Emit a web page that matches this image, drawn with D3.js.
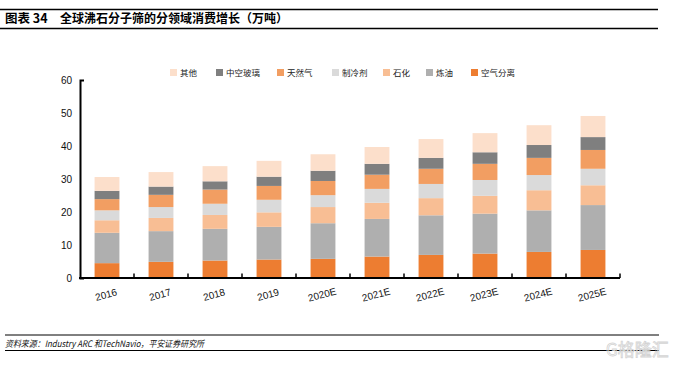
<!DOCTYPE html>
<html lang="zh">
<head>
<meta charset="utf-8">
<style>
  body { margin: 0; background: #fff; }
  svg { display: block; }
  text { font-family: "Liberation Sans", Arial, sans-serif; }
  .cn { font-family: "Noto Sans CJK SC", sans-serif; }
</style>
</head>
<body>
<div id="chart"></div>
<script src="https://d3js.org/d3.v7.min.js"></script>
<script>
var years = ["2016", "2017", "2018", "2019", "2020E", "2021E", "2022E", "2023E", "2024E", "2025E"];
// stack order bottom -> top
var seriesNames = ["空气分离", "炼油", "石化", "制冷剂", "天然气", "中空玻璃", "其他"];
var kongqi   = [4.5, 4.9, 5.3, 5.6, 5.8, 6.5, 7.0, 7.4, 7.9, 8.5];
var lianyou  = [9.2, 9.3, 9.6, 9.9, 10.8, 11.4, 12.0, 12.1, 12.6, 13.6];
var shihua   = [3.8, 4.0, 4.2, 4.4, 4.9, 4.9, 5.2, 5.4, 6.1, 6.0];
var zhileng  = [3.0, 3.3, 3.4, 3.8, 3.6, 4.2, 4.3, 4.8, 4.6, 5.0];
var tianran  = [3.4, 3.7, 4.3, 4.2, 4.3, 4.3, 4.6, 4.9, 5.2, 5.7];
var zhongkong = [2.5, 2.5, 2.5, 2.8, 3.1, 3.3, 3.3, 3.5, 3.9, 3.9];
var qita     = [4.2, 4.4, 4.6, 4.8, 5.0, 5.1, 5.7, 5.8, 6.0, 6.4];
var yTicks = [0, 10, 20, 30, 40, 50, 60];
// legend order left -> right
var legendOrder = ["其他", "中空玻璃", "天然气", "制冷剂", "石化", "炼油", "空气分离"];

var colors = {
  "空气分离": "#ED7D31",
  "炼油": "#AFAFAF",
  "石化": "#F8BE94",
  "制冷剂": "#DADADA",
  "天然气": "#F29E62",
  "中空玻璃": "#7F7F7F",
  "其他": "#FCDFCB"
};

var values = [kongqi, lianyou, shihua, zhileng, tianran, zhongkong, qita];
var rows = years.map(function(y, i) {
  var r = { year: y };
  seriesNames.forEach(function(s, j) { r[s] = values[j][i]; });
  return r;
});

var width = 681, height = 367;
var svg = d3.select("#chart").append("svg")
  .attr("width", width).attr("height", height);

// header
svg.append("line").attr("x1", 0).attr("x2", 658).attr("y1", 9.5).attr("y2", 9.5)
  .attr("stroke", "#000").attr("stroke-width", 1.3);
svg.append("line").attr("x1", 0).attr("x2", 658).attr("y1", 28.5).attr("y2", 28.5)
  .attr("stroke", "#000").attr("stroke-width", 1.3);
svg.append("text").attr("class", "cn").attr("x", 5).attr("y", 23)
  .attr("font-size", 12.5).attr("font-weight", "bold").text("图表 34");
svg.append("text").attr("class", "cn").attr("x", 60).attr("y", 23)
  .attr("font-size", 12).attr("font-weight", "bold")
  .text("全球沸石分子筛的分领域消费增长（万吨）");

// footer
svg.append("line").attr("x1", 5).attr("x2", 659).attr("y1", 335).attr("y2", 335)
  .attr("stroke", "#000").attr("stroke-width", 1);
svg.append("line").attr("x1", 5).attr("x2", 659).attr("y1", 350.5).attr("y2", 350.5)
  .attr("stroke", "#000").attr("stroke-width", 1);
svg.append("text").attr("class", "cn").attr("x", 5).attr("y", 346.5)
  .attr("font-size", 9).attr("font-style", "italic").attr("fill", "#111")
  .attr("textLength", 199).attr("lengthAdjust", "spacingAndGlyphs")
  .text("资料来源：Industry ARC 和TechNavio，平安证券研究所");

// watermark
svg.append("text").attr("class", "cn").attr("x", 606).attr("y", 356)
  .attr("font-size", 17).attr("fill", "none").attr("stroke", "#d4d4d4")
  .attr("stroke-width", 0.8).text("G格隆汇");

var x = d3.scaleBand().domain(years).range([80, 620]).paddingInner(0.54).paddingOuter(0.27);
var y = d3.scaleLinear().domain([0, 60]).range([278, 80]);

var stack = d3.stack().keys(seriesNames);
var layers = stack(rows);

svg.append("g").selectAll("g")
  .data(layers)
  .join("g")
  .attr("fill", function(d) { return colors[d.key]; })
  .selectAll("rect")
  .data(function(d) { return d; })
  .join("rect")
  .attr("x", function(d) { return x(d.data.year); })
  .attr("width", x.bandwidth())
  .attr("y", function(d) { return y(d[1]); })
  .attr("height", function(d) { return y(d[0]) - y(d[1]); });

// y axis
var yAxis = svg.append("g").attr("transform", "translate(80,0)")
  .call(d3.axisLeft(y).tickValues(yTicks).tickSizeInner(0).tickSizeOuter(-4).tickPadding(8));
yAxis.select(".domain").attr("stroke", "#000").attr("stroke-width", 2);
yAxis.selectAll("text").attr("font-size", 10).attr("fill", "#111")
  .attr("font-family", "Liberation Sans, Arial, sans-serif");

// x axis with ticks at band boundaries
var half = (x.step() - x.bandwidth()) / 2;
var bounds = years.map(function(d) { return x(d) - half; }).concat([x(years[years.length - 1]) + x.bandwidth() + half]);
svg.append("g").selectAll("line")
  .data(bounds.slice(1))
  .join("line")
  .attr("x1", function(d) { return d; }).attr("x2", function(d) { return d; })
  .attr("y1", 278).attr("y2", 273.5)
  .attr("stroke", "#000").attr("stroke-width", 1.5);
svg.append("line").attr("x1", 79).attr("x2", 620).attr("y1", 278).attr("y2", 278)
  .attr("stroke", "#000").attr("stroke-width", 2);

svg.append("g").selectAll("text")
  .data(years)
  .join("text")
  .attr("transform", function(d) {
    return "translate(" + (x(d) + x.bandwidth() / 2) + ",298) rotate(-15)";
  })
  .attr("text-anchor", "middle")
  .attr("font-size", 10).attr("fill", "#111")
  .text(function(d) { return d; });

// legend
var legendX = [170, 216, 277, 332, 383, 426, 471];
var lg = svg.append("g").selectAll("g")
  .data(legendOrder)
  .join("g")
  .attr("transform", function(d, i) { return "translate(" + legendX[i] + ",69)"; });
lg.append("rect").attr("width", 7).attr("height", 7)
  .attr("fill", function(d) { return colors[d]; });
lg.append("text").attr("class", "cn").attr("x", 10).attr("y", 7)
  .attr("font-size", 8.5).attr("fill", "#222")
  .text(function(d) { return d; });
</script>
</body>
</html>
